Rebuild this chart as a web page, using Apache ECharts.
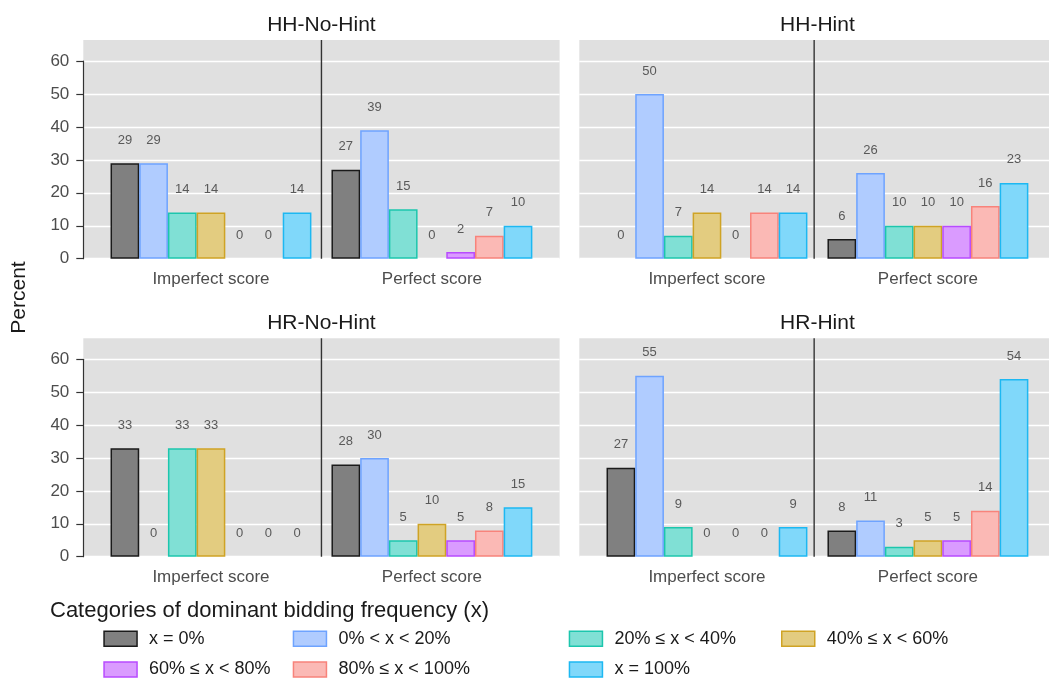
<!DOCTYPE html>
<html>
<head>
<meta charset="utf-8">
<script src="https://cdn.jsdelivr.net/npm/echarts@6/dist/echarts.min.js"></script>
<style>
  html, body { margin: 0; padding: 0; background: #ffffff; }
  #chart { width: 1049px; height: 682px; }
</style>
</head>
<body>
<div id="chart"></div>
<script>
// Categories of dominant bidding frequency (fill groups)
const categories = ['x = 0%', '0% < x < 20%', '20% ≤ x < 40%', '40% ≤ x < 60%', '60% ≤ x < 80%', '80% ≤ x < 100%', 'x = 100%'];
const scoreGroups = ['Imperfect score', 'Perfect score'];
const panelTitles = ['HH-No-Hint', 'HH-Hint', 'HR-No-Hint', 'HR-Hint'];

// Percent of participants per category, one array per panel and score group
const hhNoHintImperfect = [29, 29, 14, 14, 0, 0, 14];
const hhNoHintPerfect   = [27, 39, 15, 0, 2, 7, 10];
const hhHintImperfect   = [0, 50, 7, 14, 0, 14, 14];
const hhHintPerfect     = [6, 26, 10, 10, 10, 16, 23];
const hrNoHintImperfect = [33, 0, 33, 33, 0, 0, 0];
const hrNoHintPerfect   = [28, 30, 5, 10, 5, 8, 15];
const hrHintImperfect   = [27, 55, 9, 0, 0, 0, 9];
const hrHintPerfect     = [8, 11, 3, 5, 5, 14, 54];

const yTickMax = 60;
const yTickStep = 10;

const fills   = ['#808080', '#B0CCFF', '#80E0D5', '#E3CC80', '#DA9BFF', '#FBB9B5', '#80D8FA'];
const borders = ['#1A1A1A', '#6EA3FF', '#1CC6AD', '#CFA325', '#B84BFF', '#F8837B', '#1DB8F2'];

const FONT = "'Liberation Sans', Arial, sans-serif";

const panels = [
  { title: panelTitles[0], col: 0, row: 0, imperfect: hhNoHintImperfect, perfect: hhNoHintPerfect },
  { title: panelTitles[1], col: 1, row: 0, imperfect: hhHintImperfect,   perfect: hhHintPerfect },
  { title: panelTitles[2], col: 0, row: 1, imperfect: hrNoHintImperfect, perfect: hrNoHintPerfect },
  { title: panelTitles[3], col: 1, row: 1, imperfect: hrHintImperfect,   perfect: hrHintPerfect }
];

// Panel layout
const colLeft = [83.3, 579.3];
const panelWidth = 476.3;
const rowTop = [40, 338.3];
const rowZero = [258.7, 556.7];
const tickTopY = [61, 359.3];
const barInset = 17.2;

const grid = [], xAxis = [], yAxis = [], series = [], graphic = [];

panels.forEach((p, i) => {
  const left = colLeft[p.col];
  const top = rowTop[p.row];
  const h = rowZero[p.row] - top;
  const axisH = rowZero[p.row] - tickTopY[p.row];
  const yMax = yTickMax * h / axisH;
  const isLeft = p.col === 0;
  const g0 = i * 3;

  // panel background, with a 0..1 frame used for the group divider
  grid.push({ left: left, top: top, width: panelWidth, height: h, show: true,
              backgroundColor: '#E0E0E0', borderWidth: 0, containLabel: false });
  xAxis.push({ gridIndex: g0, type: 'value', show: false, min: 0, max: 1 });
  yAxis.push({ gridIndex: g0, type: 'value', show: false, min: 0, max: 1 });

  // y scale with gridlines, ticks and labels
  grid.push({ left: left, top: tickTopY[p.row], width: panelWidth, height: axisH, show: false, containLabel: false });
  xAxis.push({ gridIndex: g0 + 1, type: 'value', show: false, min: 0, max: 1 });
  yAxis.push({
    gridIndex: g0 + 1, type: 'value', min: 0, max: yTickMax, interval: yTickStep,
    axisLine: { show: isLeft, lineStyle: { color: '#333333', width: 1.2 } },
    axisTick: { show: isLeft, length: 7, lineStyle: { color: '#333333', width: 1.2 } },
    axisLabel: { show: isLeft, margin: 14, fontSize: 17, color: '#4D4D4D', fontFamily: FONT },
    splitLine: { show: true, lineStyle: { color: '#FFFFFF', width: 1.4 } }
  });

  // bars
  grid.push({ left: left + barInset, top: top, width: panelWidth - 2 * barInset, height: h, show: false, containLabel: false });
  xAxis.push({
    gridIndex: g0 + 2, type: 'category', data: scoreGroups,
    axisLine: { show: false }, axisTick: { show: false }, splitLine: { show: false },
    axisLabel: { margin: 12, fontSize: 17, lineHeight: 17, color: '#4D4D4D', fontFamily: FONT }
  });
  yAxis.push({ gridIndex: g0 + 2, type: 'value', show: false, min: 0, max: yMax });

  // vertical divider between the two score groups
  series.push({
    type: 'line', xAxisIndex: g0, yAxisIndex: g0, silent: true, symbol: 'none',
    lineStyle: { color: '#333333', width: 1.4 }, z: 1,
    data: [[0.5, 0], [0.5, 1]]
  });

  categories.forEach((cat, k) => {
    const vals = [p.imperfect[k], p.perfect[k]];
    series.push({
      name: cat, type: 'bar', xAxisIndex: g0 + 2, yAxisIndex: g0 + 2,
      barWidth: 28.7, barGap: '0%',
      itemStyle: { color: fills[k], borderColor: borders[k], borderWidth: 1.5 },
      label: { show: true, position: 'top', distance: 16, fontSize: 13, lineHeight: 14,
               color: '#595959', fontFamily: FONT, formatter: (d) => String(d.value) },
      emphasis: { disabled: true },
      data: vals.map(v => v === 0 ? { value: v, itemStyle: { borderWidth: 0 } } : v)
    });
  });

  graphic.push({
    type: 'text', x: left + panelWidth / 2, y: top - 15, silent: true,
    style: { text: p.title, fontSize: 21, fontFamily: FONT, fill: '#1A1A1A',
             textAlign: 'center', align: 'center', textVerticalAlign: 'middle', verticalAlign: 'middle' }
  });
});

graphic.push({
  type: 'text', x: 19, y: 297.5, rotation: Math.PI / 2, silent: true,
  style: { text: 'Percent', fontSize: 21, fontFamily: FONT, fill: '#1A1A1A',
           textAlign: 'center', align: 'center', textVerticalAlign: 'middle', verticalAlign: 'middle' }
});
graphic.push({
  type: 'text', x: 50, y: 610.5, silent: true,
  style: { text: 'Categories of dominant bidding frequency (x)', fontSize: 22, fontFamily: FONT, fill: '#1A1A1A',
           textAlign: 'left', align: 'left', textVerticalAlign: 'middle', verticalAlign: 'middle' }
});

// Legend laid out as 4 columns x 2 rows
const legendCols = [[0, 4], [1, 5], [2, 6], [3]];
const legendLeft = [103.3, 292.7, 568.7, 781];
const legend = legendCols.map((idxs, c) => ({
  orient: 'vertical', left: legendLeft[c], top: 629.7, padding: 0,
  itemWidth: 33, itemHeight: 15, itemGap: 12.8, selectedMode: false, icon: 'rect',
  textStyle: { fontSize: 18, lineHeight: 18, color: '#1A1A1A', fontFamily: FONT, padding: [0, 0, 0, 7] },
  data: idxs.map(k => ({ name: categories[k],
    itemStyle: { color: fills[k], borderColor: borders[k], borderWidth: 1.5 } }))
}));

const chart = echarts.init(document.getElementById('chart'), null, { renderer: 'canvas' });
chart.setOption({
  animation: false,
  backgroundColor: '#FFFFFF',
  textStyle: { fontFamily: FONT },
  grid, xAxis, yAxis, series, legend, graphic
});
</script>
</body>
</html>
